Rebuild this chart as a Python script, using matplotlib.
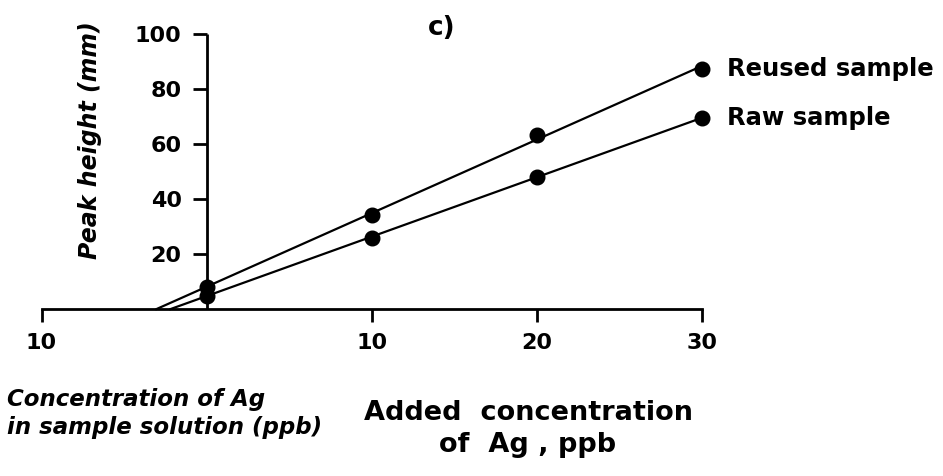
import numpy as np
import matplotlib
matplotlib.use("Agg")
import matplotlib.pyplot as plt

# ---- data ----
added_ag = [0, 10, 20, 30]                 # added concentration of Ag, ppb
reused_sample = [8.0, 34.4, 63.5, 87.5]    # peak height (mm)
raw_sample = [5.0, 26.1, 48.1, 69.7]       # peak height (mm)
series_names = ["Reused sample", "Raw sample"]
x_ticks = [-10, 10, 20, 30]
x_tick_labels = ["10", "10", "20", "30"]
y_ticks = [20, 40, 60, 80, 100]
y_tick_labels = ["20", "40", "60", "80", "100"]

plt.rcParams['font.family'] = ['DejaVu Sans']

W, H = 943, 476
fig = plt.figure(figsize=(W / 100, H / 100), dpi=100)
left_px, right_px = 41.5, 702.0
bottom_px, top_px = 309.3, 34.3
ax = fig.add_axes([left_px / W, 1 - bottom_px / H,
                   (right_px - left_px) / W, (bottom_px - top_px) / H])
ax.set_xlim(-10, 30)
ax.set_ylim(0, 100)

# axes as a cross
for s in ['top', 'right']:
    ax.spines[s].set_visible(False)
ax.spines['left'].set_position(('data', 0))
ax.spines['left'].set_bounds(0, 100)
ax.spines['left'].set_linewidth(2.0)
ax.spines['bottom'].set_linewidth(2.0)
ax.spines['left'].set_capstyle('butt')

ax.set_xticks(x_ticks)
ax.set_xticklabels(x_tick_labels)
ax.set_yticks(y_ticks)
ax.set_yticklabels(y_tick_labels)
ax.tick_params(axis='x', direction='out', length=9, width=2.0, pad=8,
               labelsize=16)
ax.tick_params(axis='y', direction='out', length=10, width=2.0, pad=8,
               labelsize=16)
for lab in ax.get_xticklabels() + ax.get_yticklabels():
    lab.set_fontweight('bold')

x = np.array(added_ag, dtype=float)
for ys, name in zip([reused_sample, raw_sample], series_names):
    ys = np.array(ys)
    m, b = np.polyfit(x, ys, 1)
    x0 = -b / m
    xl = np.array([x0, x.max()])
    ax.plot(xl, m * xl + b, color='black', lw=1.6, clip_on=False,
            solid_capstyle='round')
    ax.plot(x, ys, 'o', color='black', ms=10.5, clip_on=False, zorder=5)
    ax.annotate(name, xy=(x[-1], ys[-1]), xytext=(18, -5),
                textcoords='offset points', ha='left', va='baseline',
                fontsize=17.5, fontweight='bold', annotation_clip=False)

# texts
fig.text(442 / W, 1 - 28 / H, "c)", ha='center', va='center',
         fontsize=19, fontweight='bold')
fig.text(90 / W, 1 - 140 / H, "Peak height (mm)", rotation=90,
         ha='center', va='center', fontsize=17, fontweight='bold',
         fontstyle='italic')
fig.text(7 / W, 1 - 388 / H, "Concentration of Ag\nin sample solution (ppb)",
         ha='left', va='top', fontsize=16.5, fontweight='bold',
         fontstyle='italic', linespacing=1.3)
fig.text(528 / W, 1 - 400 / H, "Added  concentration\nof  Ag , ppb",
         ha='center', va='top', multialignment='center', fontsize=19.5,
         fontweight='bold', linespacing=1.3)

fig.savefig("out.png", dpi=100)
